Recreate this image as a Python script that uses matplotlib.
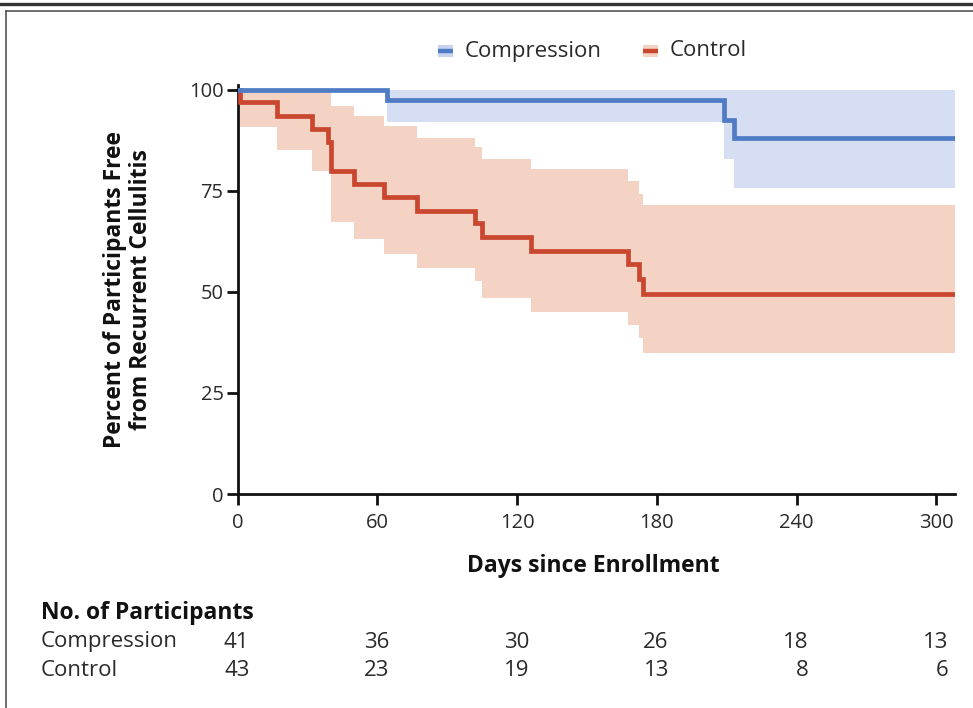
import matplotlib
matplotlib.use("Agg")
import matplotlib.pyplot as plt
import matplotlib.transforms as mtransforms
from matplotlib.patches import Rectangle
from matplotlib.lines import Line2D

plt.rcParams['font.family'] = ['Open Sans', 'DejaVu Sans']

# ---------------- data ----------------
end_day = 308
comp_days = [0, 64, 209, 213]
comp_surv = [100, 97.5, 92.5, 88.0]
comp_lo = [100, 92.0, 83.0, 75.8]
comp_hi = [100, 100, 100, 100]

ctrl_days = [0, 1, 17, 32, 39, 40, 50, 63, 77, 102, 105, 126, 167.5, 172.5, 174]
ctrl_surv = [100, 97.0, 93.6, 90.4, 87.0, 80.0, 76.8, 73.4, 70.1, 67.0, 63.5, 60.2, 57.0, 53.3, 49.6]
ctrl_lo = [100, 90.7, 85.0, 80.0, 80.0, 67.2, 63.2, 59.5, 55.8, 52.8, 48.4, 45.0, 41.7, 38.5, 34.8]
ctrl_hi = [100, 100, 100, 100, 100, 96.0, 93.6, 91.1, 88.2, 85.8, 83.0, 80.5, 77.5, 74.3, 71.4]

x_ticks = [0, 60, 120, 180, 240, 300]
y_ticks = [0, 25, 50, 75, 100]
groups = ["Compression", "Control"]
at_risk_comp = [41, 36, 30, 26, 18, 13]
at_risk_ctrl = [43, 23, 19, 13, 8, 6]

blue_line = '#4F7CC4'
red_line = '#C9472F'
blue_band = '#C6D2EE'
red_band = '#F4D3C5'
txt = '#2a2a2a'

FS_TICK = 14.5
FS_TXT = 16
FS_BOLD = 16.5

W, H = 973, 708
fig = plt.figure(figsize=(W / 100, H / 100), dpi=100)
ax = fig.add_axes([237.5 / W, 1 - 494 / H, (955 - 237.5) / W, (494 - 85) / H])

def ext(a, v):
    return list(a) + [v]

# bands
ax.fill_between(ext(ctrl_days, end_day), ext(ctrl_lo, ctrl_lo[-1]), ext(ctrl_hi, ctrl_hi[-1]),
                step='post', color=red_band, lw=0, zorder=1)
ax.fill_between(ext(comp_days, end_day), ext(comp_lo, comp_lo[-1]), ext(comp_hi, comp_hi[-1]),
                step='post', color=blue_band, alpha=0.72, lw=0, zorder=2)
# lines
ax.step(ext(ctrl_days, end_day), ext(ctrl_surv, ctrl_surv[-1]), where='post',
        color=red_line, lw=3.4, zorder=3, solid_joinstyle='miter')
ax.step(ext(comp_days, end_day), ext(comp_surv, comp_surv[-1]), where='post',
        color=blue_line, lw=3.4, zorder=4, solid_joinstyle='miter')

ax.set_xlim(0, end_day)
ax.set_ylim(0, 101.2)
ax.set_xticks(x_ticks)
ax.set_yticks(y_ticks)
for s in ['top', 'right']:
    ax.spines[s].set_visible(False)
for s in ['left', 'bottom']:
    ax.spines[s].set_linewidth(2.0)
    ax.spines[s].set_color('#111111')
ax.tick_params(axis='x', length=8, width=2, pad=6, labelsize=FS_TICK, colors='#111111', labelcolor=txt)
ax.tick_params(axis='y', length=8, width=2, pad=2, labelsize=FS_TICK, colors='#111111', labelcolor=txt)

# axis labels
fig.text(128 / W, 1 - 289.5 / H, "Percent of Participants Free\nfrom Recurrent Cellulitis",
         rotation=90, ha='center', va='center', fontsize=FS_BOLD, fontweight='bold',
         color='#111111', linespacing=1.15, multialignment='center')
fig.text(593 / W, 1 - 566 / H, "Days since Enrollment", ha='center', va='center',
         fontsize=FS_BOLD, fontweight='bold', color='#111111')

# legend (manual)
def legend_item(x0, color_band, color_line, label):
    fig.add_artist(Rectangle((x0 / W, 1 - 57 / H), 15 / W, 12 / H, transform=fig.transFigure,
                             color=color_band, lw=0))
    fig.add_artist(Line2D([x0 / W, (x0 + 15) / W], [1 - 51 / H, 1 - 51 / H], transform=fig.transFigure,
                          color=color_line, lw=3.2, solid_capstyle='butt'))
    fig.text((x0 + 27) / W, 1 - 51 / H, label, ha='left', va='center', fontsize=FS_TXT, color=txt)

legend_item(438, blue_band, blue_line, groups[0])
legend_item(643, red_band, red_line, groups[1])

# number at risk table
fig.text(41 / W, 1 - 613 / H, "No. of Participants", ha='left', va='center',
         fontsize=FS_BOLD, fontweight='bold', color='#111111')
row_y = [642, 670]
trans = mtransforms.blended_transform_factory(ax.transData, fig.transFigure) + \
    mtransforms.ScaledTranslation(12 / 100, 0, fig.dpi_scale_trans)
for name, counts, yy in zip(groups, [at_risk_comp, at_risk_ctrl], row_y):
    fig.text(41 / W, 1 - yy / H, name, ha='left', va='center', fontsize=FS_TXT, color=txt)
    for xt, c in zip(x_ticks, counts):
        fig.text(xt, 1 - yy / H, str(c), transform=trans, ha='right', va='center',
                 fontsize=FS_TXT, color=txt)

# frame
fig.add_artist(Line2D([0, 1], [1 - 3.5 / H, 1 - 3.5 / H], transform=fig.transFigure,
                      color='#333333', lw=2.4))
fig.add_artist(Line2D([6 / W, 1], [1 - 11 / H, 1 - 11 / H], transform=fig.transFigure,
                      color='#555555', lw=1.2))
fig.add_artist(Line2D([6 / W, 6 / W], [1 - 11 / H, 0], transform=fig.transFigure,
                      color='#555555', lw=1.2))

fig.savefig("out.png", dpi=100)
